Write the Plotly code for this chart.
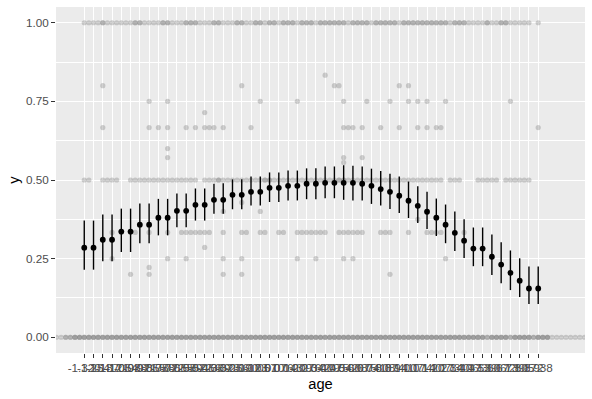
import plotly.graph_objects as go

# ---------------- data ----------------
# age positions of the summary points (tick positions) and their labels
age_ticks = [0, 2, 4, 6, 8, 10, 12, 14, 16, 18, 20, 22, 24, 26, 28, 30, 32, 34, 36, 38,
             40, 42, 44, 46, 48, 50, 52, 54, 56, 58, 60, 62, 64, 66, 68, 70, 72, 74, 76, 78,
             80, 82, 84, 86, 88, 90, 92, 94, 96, 98]
age_labels = ["-1.320", "-1.254", "-1.187", "-1.121", "-1.054", "-0.988", "-0.921", "-0.855",
              "-0.788", "-0.722", "-0.655", "-0.589", "-0.522", "-0.456", "-0.389", "-0.323",
              "-0.256", "-0.190", "-0.123", "-0.057", "0.010", "0.076", "0.143", "0.209",
              "0.276", "0.342", "0.409", "0.475", "0.542", "0.608", "0.675", "0.741", "0.808",
              "0.874", "0.941", "1.007", "1.074", "1.140", "1.207", "1.273", "1.340", "1.406",
              "1.473", "1.539", "1.606", "1.672", "1.739", "1.805", "1.872", "1.938"]

mean_y = [0.285, 0.285, 0.310, 0.310, 0.336, 0.336, 0.358, 0.358, 0.380, 0.380,
          0.402, 0.402, 0.421, 0.421, 0.437, 0.437, 0.453, 0.453, 0.4625, 0.4625,
          0.475, 0.475, 0.4815, 0.4815, 0.488, 0.488, 0.491, 0.491, 0.491, 0.491,
          0.488, 0.4815, 0.471, 0.4625, 0.450, 0.434, 0.418, 0.399, 0.380, 0.358,
          0.332, 0.307, 0.282, 0.282, 0.256, 0.231, 0.205, 0.180, 0.155, 0.155]
upper_y = [0.371, 0.371, 0.390, 0.390, 0.409, 0.409, 0.425, 0.425, 0.440, 0.440,
           0.457, 0.457, 0.473, 0.473, 0.488, 0.490, 0.502, 0.502, 0.511, 0.511,
           0.524, 0.524, 0.530, 0.530, 0.537, 0.537, 0.543, 0.543, 0.547, 0.545,
           0.543, 0.536, 0.529, 0.520, 0.511, 0.495, 0.480, 0.463, 0.441, 0.422,
           0.400, 0.375, 0.349, 0.349, 0.327, 0.302, 0.276, 0.251, 0.225, 0.225]
lower_y = [0.215, 0.215, 0.242, 0.242, 0.271, 0.271, 0.299, 0.299, 0.324, 0.324,
           0.350, 0.350, 0.371, 0.371, 0.393, 0.393, 0.407, 0.407, 0.419, 0.419,
           0.430, 0.430, 0.435, 0.435, 0.439, 0.439, 0.442, 0.442, 0.437, 0.435,
           0.435, 0.424, 0.419, 0.408, 0.395, 0.379, 0.363, 0.344, 0.322, 0.299,
           0.274, 0.252, 0.226, 0.226, 0.198, 0.172, 0.150, 0.128, 0.106, 0.106]

# raw observations: all observed ages, and number of observations at each age
# with outcome 0, 1 and 0.5
ages_all = [-6, -5, -4, -3, -2, -1, 0, 1, 2, 3,
            4, 5, 6, 7, 8, 9, 10, 11, 12, 13,
            14, 15, 16, 17, 18, 19, 20, 21, 22, 23,
            24, 25, 26, 27, 28, 29, 30, 31, 32, 33,
            34, 35, 36, 37, 38, 39, 40, 41, 42, 43,
            44, 45, 46, 47, 48, 49, 50, 51, 52, 53,
            54, 55, 56, 57, 58, 59, 60, 61, 62, 63,
            64, 65, 66, 67, 68, 69, 70, 71, 72, 73,
            74, 75, 76, 77, 78, 79, 80, 81, 82, 83,
            84, 85, 86, 87, 88, 89, 90, 91, 92, 93,
            94, 95, 96, 97, 98, 99, 100, 101, 102, 103,
            104, 105, 106, 107, 108]
n_y0 = [1, 1, 2, 2, 3, 3, 3, 3, 3, 3,
        3, 3, 3, 3, 3, 3, 3, 3, 3, 3,
        3, 3, 3, 3, 3, 3, 3, 3, 3, 3,
        3, 3, 3, 3, 3, 3, 3, 3, 3, 3,
        3, 3, 3, 3, 3, 3, 3, 3, 3, 3,
        3, 3, 3, 3, 3, 3, 3, 3, 3, 3,
        3, 3, 3, 3, 3, 3, 3, 3, 3, 3,
        3, 3, 3, 3, 3, 3, 3, 3, 3, 3,
        3, 3, 3, 3, 3, 3, 3, 3, 3, 3,
        3, 3, 3, 2, 3, 3, 3, 3, 2, 3,
        3, 3, 3, 2, 3, 3, 3, 1, 1, 1,
        1, 1, 1, 1, 1]
n_y1 = [0, 0, 0, 0, 0, 0, 1, 1, 1, 1,
        2, 1, 1, 1, 1, 1, 1, 2, 2, 1,
        1, 1, 1, 2, 2, 1, 1, 1, 2, 2,
        2, 1, 1, 1, 2, 2, 1, 1, 1, 2,
        2, 1, 1, 2, 2, 1, 2, 2, 1, 2,
        2, 2, 1, 2, 2, 2, 1, 2, 2, 2,
        2, 2, 2, 1, 2, 2, 2, 2, 1, 2,
        2, 2, 2, 2, 1, 2, 2, 2, 2, 2,
        2, 2, 2, 2, 2, 1, 2, 2, 2, 1,
        1, 1, 1, 2, 1, 1, 2, 2, 1, 1,
        1, 1, 1, 0, 1, 0, 0, 0, 0, 0,
        0, 0, 0, 0, 0]
n_y05 = [0, 0, 0, 0, 0, 0, 1, 1, 0, 0,
         1, 1, 1, 1, 0, 0, 1, 1, 1, 1,
         1, 1, 1, 1, 1, 1, 1, 1, 1, 1,
         1, 0, 1, 1, 1, 2, 1, 1, 1, 1,
         1, 1, 1, 1, 1, 2, 2, 1, 1, 1,
         1, 1, 1, 1, 1, 1, 1, 1, 1, 1,
         1, 2, 2, 1, 1, 1, 1, 1, 1, 1,
         1, 1, 1, 1, 1, 1, 1, 1, 1, 1,
         1, 1, 1, 1, 0, 1, 1, 1, 0, 0,
         0, 1, 1, 1, 1, 1, 0, 1, 1, 1,
         1, 1, 1, 0, 0, 0, 0, 0, 0, 0,
         0, 0, 0, 0, 0]

# remaining (sparse) observations: age and outcome
sparse_age = [52,
              4, 34, 54, 55, 68, 70,
              14, 18, 38, 46, 56, 61, 66, 70, 72, 74, 78, 92,
              26,
              4, 14, 16, 18, 22, 24, 26, 27, 28, 30, 36, 56, 57, 58, 60, 64, 68, 72, 74, 76, 77, 98,
              18,
              18, 56, 60,
              56,
              34,
              30, 38,
              72,
              6, 8, 10, 11, 14, 18, 21, 22, 23, 24, 25, 26, 27, 30, 34, 35, 38, 39, 42, 43,
              46, 47, 48, 49, 50, 51, 52, 55, 56, 57, 58, 59, 60, 64, 65, 66, 70, 74, 75, 76, 77, 82,
              26,
              6, 18, 22, 30, 34, 46, 50, 56, 58, 78,
              14,
              10, 14, 30, 34, 66]
sparse_y = [0.8333,
            0.8, 0.8, 0.8, 0.8, 0.8, 0.8,
            0.75, 0.75, 0.75, 0.75, 0.75, 0.75, 0.75, 0.75, 0.75, 0.75, 0.75, 0.75,
            0.7143,
            0.6667, 0.6667, 0.6667, 0.6667, 0.6667, 0.6667, 0.6667, 0.6667, 0.6667, 0.6667, 0.6667,
            0.6667, 0.6667, 0.6667, 0.6667, 0.6667, 0.6667, 0.6667, 0.6667, 0.6667, 0.6667, 0.6667,
            0.6,
            0.5714, 0.5714, 0.5714,
            0.5556,
            0.4286,
            0.4, 0.4,
            0.375,
            0.3333, 0.3333, 0.3333, 0.3333, 0.3333, 0.3333, 0.3333, 0.3333, 0.3333, 0.3333,
            0.3333, 0.3333, 0.3333, 0.3333, 0.3333, 0.3333, 0.3333, 0.3333, 0.3333, 0.3333,
            0.3333, 0.3333, 0.3333, 0.3333, 0.3333, 0.3333, 0.3333, 0.3333, 0.3333, 0.3333,
            0.3333, 0.3333, 0.3333, 0.3333, 0.3333, 0.3333, 0.3333, 0.3333, 0.3333, 0.3333,
            0.3333, 0.3333,
            0.2857,
            0.25, 0.25, 0.25, 0.25, 0.25, 0.25, 0.25, 0.25, 0.25, 0.25,
            0.2222,
            0.2, 0.2, 0.2, 0.2, 0.2]

y_ticks = [0, 0.25, 0.5, 0.75, 1]
y_labels = ["0.00", "0.25", "0.50", "0.75", "1.00"]

# ---------------- build raw point table ----------------
raw_x, raw_y = [], []
for value, counts in ((0.0, n_y0), (1.0, n_y1), (0.5, n_y05)):
    for a, n in zip(ages_all, counts):
        raw_x += [a] * n
        raw_y += [value] * n
raw_x += sparse_age
raw_y += sparse_y

FONT = "Liberation Sans, Arial, sans-serif"

fig = go.Figure()
fig.add_trace(go.Scatter(
    x=raw_x, y=raw_y, mode="markers",
    marker=dict(color="rgba(127,127,127,0.36)", size=5.2, line=dict(width=0)),
    hoverinfo="skip", showlegend=False))
fig.add_trace(go.Scatter(
    x=age_ticks, y=mean_y, mode="markers",
    marker=dict(color="black", size=5.8, line=dict(width=0)),
    error_y=dict(type="data", symmetric=False,
                 array=[u - m for u, m in zip(upper_y, mean_y)],
                 arrayminus=[m - l for m, l in zip(mean_y, lower_y)],
                 width=0, thickness=1.4, color="black"),
    showlegend=False))

fig.update_layout(
    width=592, height=399,
    margin=dict(l=56, r=7, t=7, b=46),
    paper_bgcolor="white", plot_bgcolor="#EBEBEB",
    font=dict(family=FONT),
    showlegend=False,
    xaxis=dict(
        range=[-6.1, 108.1], tickmode="array", tickvals=age_ticks, ticktext=age_labels,
        tickangle=0, ticks="outside", ticklen=4, tickwidth=1, tickcolor="#333333",
        tickfont=dict(size=11.7, color="#4D4D4D", family=FONT),
        showgrid=True, gridcolor="white", gridwidth=1.1, zeroline=False, showline=False,
        title=dict(text="age", font=dict(size=14.7, color="black", family=FONT), standoff=5),
    ),
    yaxis=dict(
        range=[-0.05, 1.05], tickmode="array", tickvals=y_ticks, ticktext=y_labels,
        ticks="outside", ticklen=4, tickwidth=1, tickcolor="#333333",
        tickfont=dict(size=11.7, color="#4D4D4D", family=FONT),
        showgrid=True, gridcolor="white", gridwidth=1.4, zeroline=False, showline=False,
        minor=dict(tickmode="array", tickvals=[0.125, 0.375, 0.625, 0.875],
                   showgrid=True, gridcolor="white", gridwidth=0.7, ticklen=0),
        title=dict(text="y", font=dict(size=14.7, color="black", family=FONT), standoff=2),
    ),
)

fig.write_html("out.html")
